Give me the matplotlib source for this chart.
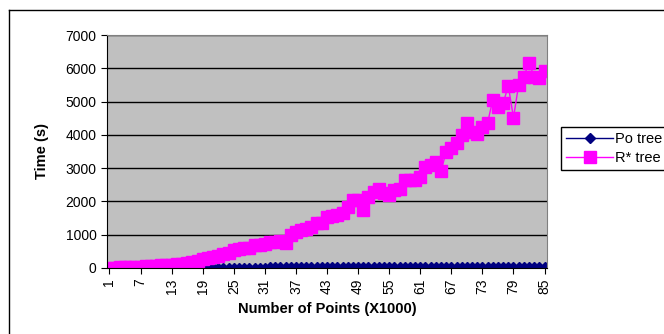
import matplotlib.pyplot as plt
from matplotlib.lines import Line2D

plt.rcParams['font.family'] = ['Liberation Sans', 'DejaVu Sans']

points = list(range(1, 86))

po_tree = [0, 0, 1, 1, 1, 1, 2, 2, 2, 3,
           3, 3, 4, 4, 5, 5, 5, 6, 6, 7,
           7, 8, 8, 8, 9, 9, 10, 10, 10, 11,
           11, 12, 12, 12, 13, 13, 14, 14, 14, 15,
           15, 16, 16, 16, 17, 17, 18, 18, 18, 19,
           19, 20, 20, 20, 21, 21, 22, 22, 22, 23,
           23, 24, 24, 24, 25, 25, 26, 26, 26, 27,
           27, 28, 28, 28, 29, 29, 30, 30, 30, 31,
           31, 32, 32, 32, 33]

r_tree = [5, 10, 15, 20, 25, 30, 40, 45, 55, 65,
          75, 90, 100, 115, 130, 150, 175, 220, 260, 300,
          340, 360, 420, 440, 540, 570, 590, 600, 690, 700,
          720, 790, 790, 800, 740, 990, 1090, 1140, 1160, 1240,
          1340, 1340, 1540, 1560, 1590, 1650, 1820, 2040, 2040, 1740,
          2140, 2290, 2370, 2260, 2190, 2340, 2360, 2640, 2640, 2650,
          2720, 3040, 3090, 3190, 2900, 3490, 3600, 3740, 3990, 4350,
          4090, 4040, 4240, 4360, 5050, 4850, 4950, 5470, 4520, 5500,
          5750, 6170, 5750, 5700, 5930]

fig = plt.figure(figsize=(6.64, 3.34), dpi=100)
ax = fig.add_axes([0.161, 0.198, 0.663, 0.697])
ax.set_facecolor('#C0C0C0')

ax.plot(points, po_tree, color='#000080', marker='D', ms=5, lw=1, label='Po tree')
ax.plot(points, r_tree, color='#FF00FF', marker='s', ms=8, lw=1, label='R* tree')

ax.set_xlim(0.5, 85.5)
ax.set_ylim(0, 7000)
ax.set_yticks(range(0, 7001, 1000))
ax.set_xticks(points[::6])
ax.set_xticklabels([str(p) for p in points[::6]], rotation=90)
ax.grid(axis='y', color='black', lw=1)
ax.set_axisbelow(True)
ax.tick_params(axis='both', labelsize=10, length=4, color='black')

for s in ['top', 'right']:
    ax.spines[s].set_color('#808080')
for s in ['left', 'bottom']:
    ax.spines[s].set_color('black')

ax.set_xlabel('Number of Points (X1000)', fontsize=10.5, fontweight='bold', labelpad=6)
ax.set_ylabel('Time (s)', fontsize=10.5, fontweight='bold', labelpad=12)

fig.legend(loc='upper left', bbox_to_anchor=(0.845, 0.62), fontsize=10.5,
           frameon=True, fancybox=False, edgecolor='black', framealpha=1,
           borderpad=0.35, borderaxespad=0, handlelength=3.2, handletextpad=0.15,
           labelspacing=0.35)

# outer frame
fig.add_artist(Line2D([9 / 664, 9 / 664], [0, 1 - 10 / 334], color='black', lw=1))
fig.add_artist(Line2D([9 / 664, 1], [1 - 10 / 334, 1 - 10 / 334], color='black', lw=1))

fig.savefig('out.png', dpi=100)
